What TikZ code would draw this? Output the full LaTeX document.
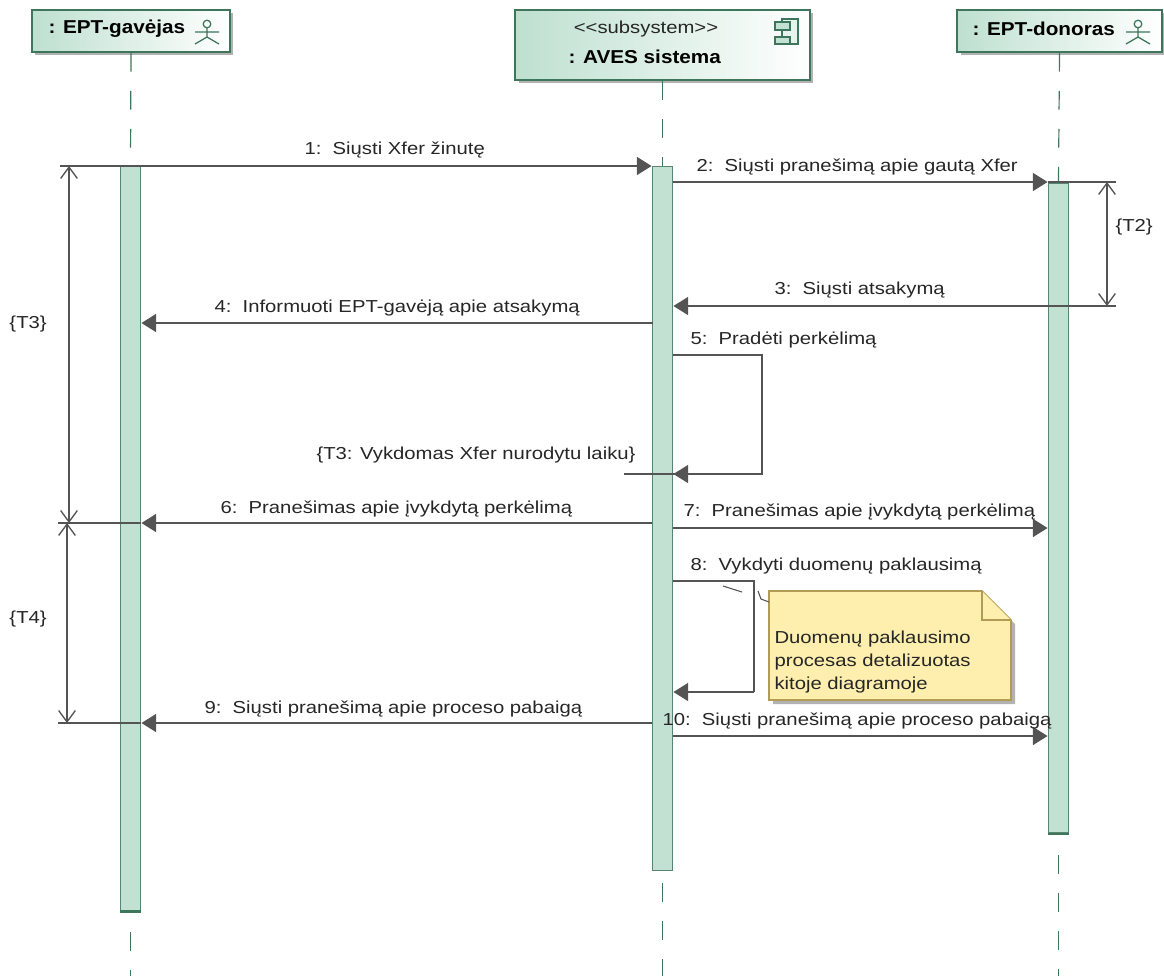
\documentclass[tikz,border=0pt]{standalone}
\usepackage{fontspec}
\setmainfont[FakeStretch=1.17]{Liberation Sans}
\newfontfamily\headfont[FakeStretch=1.11]{Liberation Sans}
\usetikzlibrary{arrows.meta,shadows}

\definecolor{barfill}{RGB}{194,225,210}
\definecolor{barline}{RGB}{88,133,113}
\definecolor{headfill}{RGB}{190,224,208}
\definecolor{headline}{RGB}{62,118,92}
\definecolor{msgline}{RGB}{84,84,84}
\definecolor{notefill}{RGB}{254,239,174}
\definecolor{noteline}{RGB}{176,156,84}
\definecolor{shadowgray}{RGB}{178,178,178}

\tikzset{every picture/.style={line width=0.75pt}}
\tikzset{
  headbox/.style={draw=headline,line width=1.2pt,left color=headfill,right color=white,
    drop shadow={opacity=1,fill=shadowgray,shadow xshift=2.6pt,shadow yshift=-2.6pt}},
  actbar/.style={draw=barline,line width=1.4pt,fill=barfill,minimum width=15pt,inner sep=0pt},
  lifeline/.style={draw=headline,line width=0.9pt,dash pattern=on 14.2pt off 14.3pt},
  msg/.style={draw=msgline,line width=1.05pt,-{Triangle[length=11pt,width=13.5pt,fill=msgline]}},
  plainmsg/.style={draw=msgline,line width=1.05pt},
  limit/.style={draw=msgline,line width=1pt,{Straight Barb[length=8.5pt,width=12.5pt]}-{Straight Barb[length=8.5pt,width=12.5pt]}},
  lbl/.style={anchor=west,inner sep=0.75pt,shift={(0,-2)},text=black!85,font=\fontsize{13}{15}\selectfont},
  headlbl/.style={lbl,text=black,font=\headfont\fontsize{14}{16}\bfseries\selectfont},
  actoricon/.pic={
    \draw [headline,line width=0.95pt] (0,8) circle (3.8);
    \draw [headline,line width=0.95pt] (-12,0) -- (12,0) (0,4) -- (0,-5) (-12,-12) -- (0,-5) -- (12,-12);
  }
}

\begin{document}
\begin{tikzpicture}[x=0.75pt,y=0.75pt,yscale=-1,xscale=1]
    \useasboundingbox (0,0) rectangle (1164,976);

    % Head boxes
    \node [headbox,minimum width=148.5pt,minimum height=31.5pt] (gavejas) at (131,31) {};
    \node [headbox,minimum width=221pt,minimum height=52.5pt] (aves) at (662.5,45) {};
    \node [headbox,minimum width=153.5pt,minimum height=31.5pt] (donoras) at (1059.5,31) {};

    % Activation bars
    \node [actbar,minimum height=558pt] (barG) at (130.5,538.5) {};
    \node [actbar,minimum height=528pt] (barA) at (662.5,518.5) {};
    \node [actbar,minimum height=487.5pt] (barD) at (1058.5,508) {};
    \draw [headline,line width=2pt] (barG.south west) -- (barG.south east);
    \draw [headline,line width=2pt] (barD.south west) -- (barD.south east);

    % Lifelines
    \coordinate (endG) at (130.5,932);
    \coordinate (stopG) at (130.5,976);
    \coordinate (endA) at (662.5,883);
    \coordinate (stopA) at (662.5,976);
    \coordinate (endD) at (1058.5,855);
    \coordinate (stopD) at (1058.5,976);
    \draw [lifeline] (gavejas.south) -- (barG.north);
    \draw [lifeline] (aves.south) -- (barA.north);
    \draw [lifeline] (donoras.south) -- (barD.north);
    \draw [lifeline] (endG) -- (stopG);
    \draw [lifeline] (endA) -- (stopA);
    \draw [lifeline] (endD) -- (stopD);

    % Icons
    \path (207,32) pic {actoricon};
    \path (1138,32) pic {actoricon};
    \draw [headline,line width=1.1pt,fill=barfill!40] (782,19) rectangle (798,44);
    \draw [headline,line width=1.1pt,fill=barfill] (775,22) rectangle (790,30);
    \draw [headline,line width=1.1pt,fill=barfill] (775,37) rectangle (790,44);

    % Left ends of the lines
    \coordinate (m1) at (60,166);
    \coordinate (m2) at (1116,182);
    \coordinate (m3) at (1116,306);
    \coordinate (m4) at (653,323);
    \coordinate (m5a) at (673,355);
    \coordinate (m5b) at (762,355);
    \coordinate (m5c) at (762,474);
    \coordinate (m5d) at (624,474);
    \coordinate (m6) at (58,523);
    \coordinate (m7) at (673,528);
    \coordinate (m8a) at (673,581);
    \coordinate (m8b) at (754,581);
    \coordinate (m8c) at (754,692);
    \coordinate (m9) at (58,723);
    \coordinate (m10) at (673,736);

    % Messages
    \draw [msg] (m1) -- (m1 -| barA.west);
    \draw [msg] (barA.east |- m2) -- (m2 -| barD.west);
    \draw [plainmsg] (m2 -| barD.west) -- (m2);
    \draw [msg] (m3) -- (m3 -| barA.east);
    \draw [msg] (m4) -- (m4 -| barG.east);
    \draw [plainmsg] (m5a) -- (m5b) -- (m5c) -- (m5c -| barA.east);
    \draw [msg] (m5c) -- (m5c -| barA.east);
    \draw [plainmsg] (m5d) -- (m5c -| barA.east);
    \draw [plainmsg] (m6) -- (m6 -| barG.east);
    \draw [msg] (m6 -| barA.west) -- (m6 -| barG.east);
    \draw [msg] (m7) -- (m7 -| barD.west);
    \draw [plainmsg] (m8a) -- (m8b) -- (m8c);
    \draw [msg] (m8c) -- (m8c -| barA.east);
    \draw [plainmsg] (m9) -- (m9 -| barG.east);
    \draw [msg] (m9 -| barA.west) -- (m9 -| barG.east);
    \draw [msg] (m10) -- (m10 -| barD.west);

    % Time limits
    \coordinate (t3a) at (69,166);
    \coordinate (t3b) at (69,523);
    \coordinate (t4a) at (67,523);
    \coordinate (t4b) at (67,723);
    \coordinate (t2a) at (1107,182);
    \coordinate (t2b) at (1107,306);
    \draw [limit] (t3a) -- (t3b);
    \draw [limit] (t4a) -- (t4b);
    \draw [limit] (t2a) -- (t2b);

    % Note
    \fill [shadowgray] (773,595) -- (986,595) -- (1015,624) -- (1015,704) -- (773,704) -- cycle;
    \draw [noteline,line width=1.2pt,fill=notefill] (769,591) -- (982,591) -- (1011,620) -- (1011,700) -- (769,700) -- cycle;
    \draw [noteline,line width=1.2pt,fill=notefill] (982,591) -- (982,620) -- (1011,620);
    \coordinate (n1) at (723,586);
    \coordinate (n2) at (742,592);
    \coordinate (n3) at (758,591);
    \coordinate (n4) at (761,599);
    \coordinate (n5) at (769,602);
    \draw [msgline,line width=0.8pt] (n1) -- (n2);
    \draw [msgline,line width=0.8pt] (n3) -- (n4) -- (n5);

    % Text Node
    \draw (47,27) node [headlbl] (tG) {: EPT-gavėjas};
    % Text Node
    \draw (646,27) node [lbl,anchor=center] (tS) {<{}<subsystem>{}>};
    % Text Node
    \draw (567,55) node [headlbl] (tA) {: AVES sistema};
    % Text Node
    \draw (971,27) node [headlbl] (tD) {: EPT-donoras};
    % Text Node
    \draw (303,148) node [lbl] (l1) {1:\ \ Siųsti Xfer žinutę};
    % Text Node
    \draw (695,165) node [lbl] (l2) {2:\ \ Siųsti pranešimą apie gautą Xfer};
    % Text Node
    \draw (773,288) node [lbl] (l3) {3:\ \ Siųsti atsakymą};
    % Text Node
    \draw (213,306) node [lbl] (l4) {4:\ \ Informuoti EPT-gavėją apie atsakymą};
    % Text Node
    \draw (689,338) node [lbl] (l5) {5:\ \ Pradėti perkėlimą};
    % Text Node
    \draw (315,453) node [lbl] (lT3v) {\{T3: Vykdomas Xfer nurodytu laiku\}};
    % Text Node
    \draw (219,507) node [lbl] (l6) {6:\ \ Pranešimas apie įvykdytą perkėlimą};
    % Text Node
    \draw (682,510) node [lbl] (l7) {7:\ \ Pranešimas apie įvykdytą perkėlimą};
    % Text Node
    \draw (689,564) node [lbl] (l8) {8:\ \ Vykdyti duomenų paklausimą};
    % Text Node
    \draw (203,707) node [lbl] (l9) {9:\ \ Siųsti pranešimą apie proceso pabaigą};
    % Text Node
    \draw (661,719) node [lbl] (l10) {10:\ \ Siųsti pranešimą apie proceso pabaigą};
    % Text Node
    \draw (773,637) node [lbl] (n6) {Duomenų paklausimo};
    % Text Node
    \draw (773,660) node [lbl] (n7) {procesas detalizuotas};
    % Text Node
    \draw (773,683) node [lbl] (n8) {kitoje diagramoje};
    % Text Node
    \draw (8,322) node [lbl] (lT3) {\{T3\}};
    % Text Node
    \draw (8,617) node [lbl] (lT4) {\{T4\}};
    % Text Node
    \draw (1114,225) node [lbl] (lT2) {\{T2\}};

\end{tikzpicture}
\end{document}
